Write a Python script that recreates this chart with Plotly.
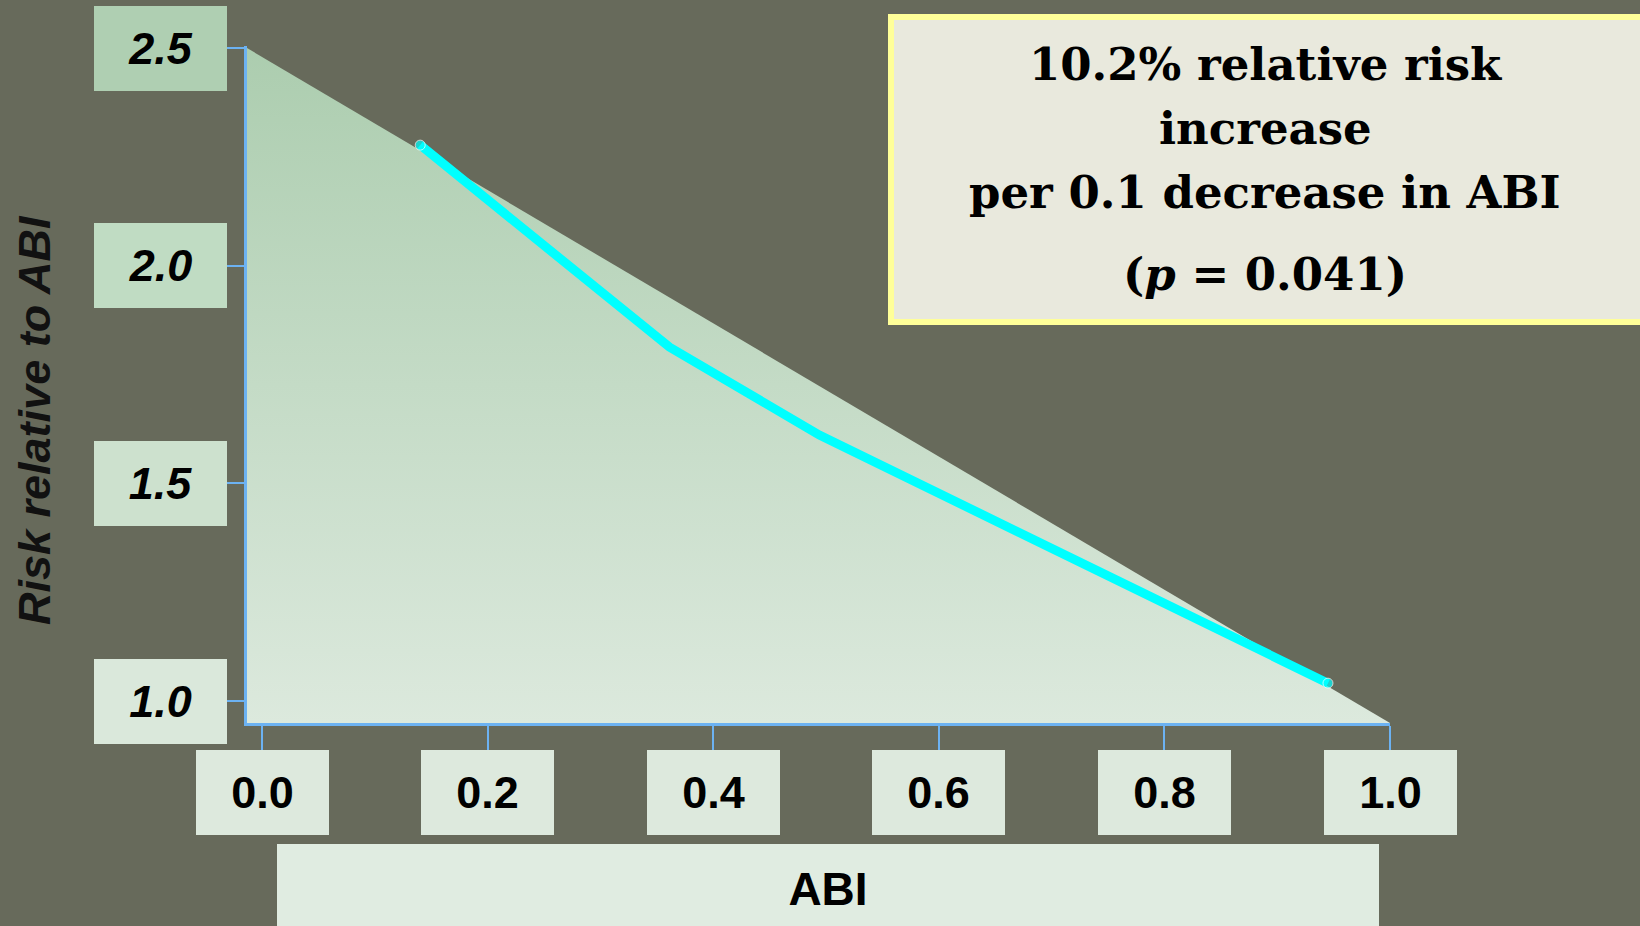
import plotly.graph_objects as go

# ---- data ----
abi_x = [0.140, 0.361, 0.494, 0.700, 0.945]
risk_y = [2.277, 1.813, 1.611, 1.351, 1.041]
area_x = [-0.0136, 1.0, -0.0136]
area_y = [2.5, 0.9495, 0.9495]
x_ticks = [0.0, 0.2, 0.4, 0.6, 0.8, 1.0]
y_ticks = [1.0, 1.5, 2.0, 2.5]
note_lines = ["10.2% relative risk", "increase", "per 0.1 decrease in ABI", "(<i>p</i> = 0.041)"]
x_title = "ABI"
y_title = "<i>Risk relative to ABI</i>"

# ---- layout geometry (pixels) ----
W, H = 1640, 926
L, R, T, B = 247, 1390, 46, 723
PW, PH = R - L, B - T


def px_x(p):
    return (p - L) / PW


def px_y(p):
    return (B - p) / PH


BG = "#676a5b"
AXIS = "#6cb2f2"
SANS = "Liberation Sans Narrow, Arial Narrow, Liberation Sans, Arial, sans-serif"
SERIF = "DejaVu Serif, serif"

fig = go.Figure()

fig.add_trace(go.Scatter(
    x=area_x + [area_x[0]], y=area_y + [area_y[0]],
    mode="lines", line=dict(width=0),
    fill="toself",
    fillgradient=dict(type="vertical", colorscale=[[0, "#dce9dd"], [1, "#accdaf"]]),
    hoverinfo="skip", showlegend=False,
))

fig.add_trace(go.Scatter(
    x=abi_x, y=risk_y, mode="lines+markers",
    line=dict(color="#00ffff", width=9),
    marker=dict(color="#00ffff", size=[10] + [0] * (len(abi_x) - 2) + [10]),
    showlegend=False,
))

annotations = []
# x tick label boxes
for v in x_ticks:
    annotations.append(dict(
        x=v, xref="x", y=px_y(792), yref="paper",
        text=f"<b>{v:.1f}</b>", showarrow=False,
        width=133, height=85, bgcolor="#dde9dd", borderpad=0, borderwidth=0,
        font=dict(family=SANS, size=45, color="#000000"),
        xanchor="center", yanchor="middle",
    ))
# y tick label boxes
ybox_colors = {1.0: "#dae8db", 1.5: "#cde1ce", 2.0: "#c0dcc3", 2.5: "#afcfb2"}
for v in y_ticks:
    annotations.append(dict(
        x=px_x(160), xref="paper", y=v, yref="y",
        text=f"<b><i>{v:.1f}</i></b>", showarrow=False,
        width=133, height=85, bgcolor=ybox_colors[v], borderpad=0, borderwidth=0,
        font=dict(family=SANS, size=45, color="#000000"),
        xanchor="center", yanchor="middle",
    ))
# x axis title box
annotations.append(dict(
    x=px_x(828), xref="paper", y=px_y(889), yref="paper",
    text=f"<b>{x_title}</b>", showarrow=False,
    width=1102, height=90, bgcolor="#e0ece1", borderpad=0, borderwidth=0,
    font=dict(family=SANS, size=46, color="#000000"),
    xanchor="center", yanchor="middle",
))
# y axis title
annotations.append(dict(
    x=px_x(34), xref="paper", y=px_y(420), yref="paper",
    text=f"<b>{y_title}</b>", showarrow=False, textangle=-90,
    font=dict(family=SANS, size=45, color="#111111"),
    xanchor="center", yanchor="middle",
))
# note box text
for line, cy in zip(note_lines, [65, 128, 192, 274]):
    annotations.append(dict(
        x=px_x(1265), xref="paper", y=px_y(cy), yref="paper",
        text=f"<b>{line}</b>", showarrow=False,
        font=dict(family=SERIF, size=45, color="#000000"),
        xanchor="center", yanchor="middle",
    ))

shapes = [dict(
    type="rect", xref="paper", yref="paper",
    x0=px_x(891), x1=px_x(1650), y0=px_y(322), y1=px_y(17),
    line=dict(color="#ffff99", width=6), fillcolor="#e9e9dd", layer="below",
)]

fig.update_layout(
    width=W, height=H,
    margin=dict(l=L, r=W - R, t=T, b=H - B, pad=0),
    paper_bgcolor=BG, plot_bgcolor=BG,
    annotations=annotations, shapes=shapes,
    showlegend=False,
    xaxis=dict(range=[-0.0136, 1.0], tickvals=x_ticks, showticklabels=False,
               ticks="outside", ticklen=27, tickwidth=2, tickcolor=AXIS,
               showline=True, linecolor=AXIS, linewidth=3, showgrid=False,
               zeroline=False, fixedrange=True),
    yaxis=dict(range=[0.9495, 2.5047], tickvals=y_ticks, showticklabels=False,
               ticks="outside", ticklen=21, tickwidth=2, tickcolor=AXIS,
               showline=True, linecolor=AXIS, linewidth=3, showgrid=False,
               zeroline=False, fixedrange=True),
)

fig.write_html(
    "out.html",
    config={"displayModeBar": False},
    post_script="document.body.style.margin='0';document.body.style.background='%s';" % BG,
)
